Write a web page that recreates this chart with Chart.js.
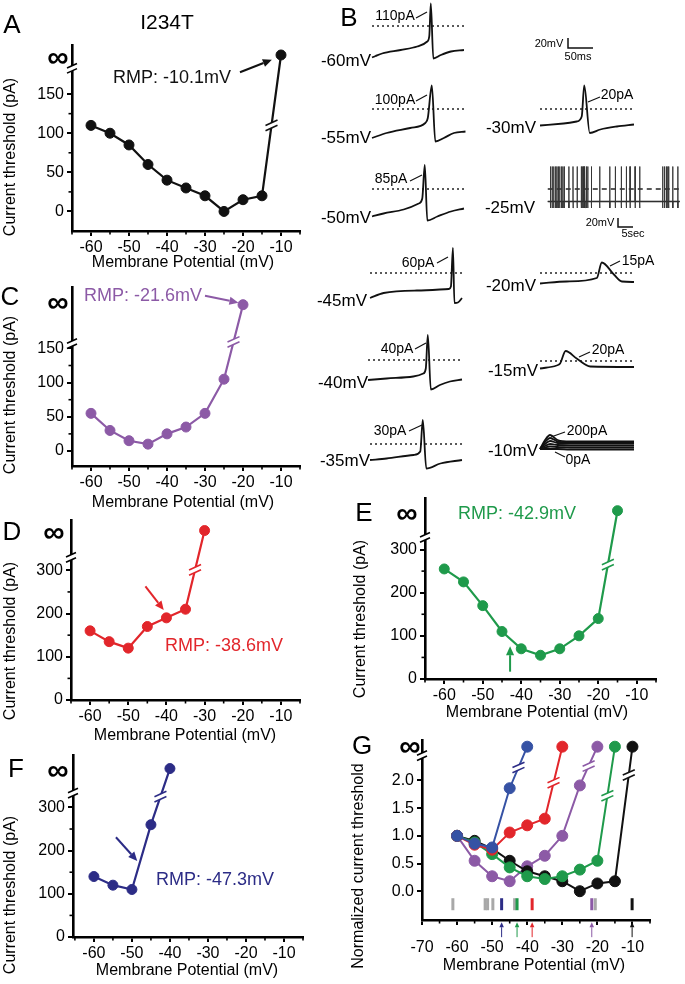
<!DOCTYPE html>
<html>
<head>
<meta charset="utf-8">
<script src="https://cdn.jsdelivr.net/npm/chart.js@4.4.0/dist/chart.umd.min.js"></script>
<style>
    body { margin: 0; background: #fff; }
    #fig { position: relative; width: 685px; height: 984px; overflow: hidden; font-family: "Liberation Sans", Arial, sans-serif; color: #000; }
    #fig canvas { position: absolute; }
    .lbl { position: absolute; transform: translate(-50%, -50%); white-space: nowrap; line-height: 1; }
</style>
</head>
<body>
<div id="fig"></div>
<script>
/*
    Data. 'inf' marks the "no firing" (infinite threshold) point.
*/
const INF = 'inf';
const potentials = [-60, -55, -50, -45, -40, -35, -30, -25, -20, -15, -10];

// current thresholds (pA), one entry per holding potential starting at -60 mV
const thresholdA = [110, 100, 85, 60, 40, 30, 20, 0, 15, 20, INF];
const thresholdC = [55, 30, 15, 10, 25, 35, 55, 105, INF];
const thresholdD = [160, 135, 120, 170, 190, 210, INF];
const thresholdE = [255, 225, 170, 110, 70, 55, 70, 100, 140, INF];
const thresholdF = [140, 120, 110, 260, INF];

// normalized thresholds (panel G)
const normBlack = [1.0, 0.91, 0.77, 0.55, 0.36, 0.27, 0.18, 0.0, 0.14, 0.18, INF];
const normPurple = [1.0, 0.55, 0.27, 0.18, 0.45, 0.64, 1.0, 1.91, INF];
const normRed = [1.0, 0.84, 0.75, 1.06, 1.19, 1.31, INF];
const normGreen = [1.0, 0.88, 0.67, 0.43, 0.27, 0.22, 0.27, 0.39, 0.55, INF];
const normBlue = [1.0, 0.86, 0.79, 1.86, INF];

// resting membrane potentials (mV) marked in panel G
const rmpGray = [-61.2, -52.0, -51.3, -49.8, -43.6, -20.6];
const rmpColored = [-47.3, -42.9, -38.6, -21.6, -10.1];

// panel B traces: time (ms) and voltage (mV)
const t60 = [0, 7, 20, 57, 90, 110, 114, 117, 122, 137, 157, 183];
const v60 = [-63, -60, -55, -48, -41, -31, -20, 45, -65, -58, -51, -48];
const t55 = [0, 29, 76, 106, 111, 119, 126, 143, 163, 186];
const v55 = [-58, -48, -38, -28, -18, 47, -65, -58, -48, -45];
const t50 = [0, 23, 63, 93, 100, 105, 110, 130, 157, 183];
const v50 = [-55, -49, -41, -29, -19, 48, -63, -55, -45, -39];
const t45 = [0, 27, 93, 157, 161, 165, 168, 175, 183];
const v45 = [-50, -40, -35, -32, -27, 50, -60, -59, -50];
const t40 = [0, 37, 90, 110, 115, 119, 125, 143, 163, 187];
const v40 = [-40, -37, -33, -27, -17, 50, -59, -50, -43, -39];
const t35 = [0, 33, 87, 100, 105, 112, 140, 183];
const v35 = [-32, -29, -22, -15, 48, -49, -39, -32];
const t30 = [0, 47, 73, 83, 88, 99, 120, 153, 187];
const v30 = [-33, -29, -25, -15, 47, -48, -41, -35, -31];
const t20 = [0, 53, 113, 123, 147, 163, 187];
const v20 = [-21, -17, -10, 21, -3, -17, -18];
const t15 = [0, 33, 40, 51, 73, 100, 187];
const v15 = [-15, -9, -5, 20, 5, -11, -12];
const t10 = [0, 10, 20, 35, 60, 187];
const v10Steps = [
    [-10, -10, -10, -10, -11, -11],
    [-10, -7, -5, -6, -7, -7],
    [-10, -4, 0, -2, -3, -3],
    [-10, 0, 6, 2, 1, 1],
    [-10, 4, 12, 5, 3, 3],
    [-10, 8, 18, 8, 5, 5]
];
// -25 mV: spontaneous firing, spike times in seconds
const spikeTimes25 = [0.6, 0.97, 1.3, 1.7, 2.0, 2.3, 2.6, 3.0, 3.3, 3.6, 4.6, 5.5, 6.4, 7.3, 7.5, 7.7, 7.9, 8.1, 8.4, 8.7,
    9.5, 11.3, 13.5, 14.7, 16.0, 17.1, 17.9, 19.0, 20.0, 25.0, 25.4, 25.8, 26.1, 26.3, 27.2, 28.3];

const colBlack = '#111111';
const colPurple = '#8c5aa6';
const colRed = '#e2262b';
const colGreen = '#1f9a4b';
const colNavy = '#2c2c86';
const colBlue = '#3652a4';
const colGray = '#a8a8a8';

Chart.defaults.font.family = '"Liberation Sans", Arial, sans-serif';
Chart.defaults.color = '#000';

const fig = document.getElementById('fig');

function addCanvas(left, top, w, h) {
    const c = document.createElement('canvas');
    c.width = Math.round(w);
    c.height = Math.round(h);
    c.style.left = Math.round(left) + 'px';
    c.style.top = Math.round(top) + 'px';
    fig.appendChild(c);
    return c;
}

function addText(txt, cx, cy, size, color, extra) {
    const d = document.createElement('div');
    d.className = 'lbl';
    d.textContent = txt;
    d.style.left = cx + 'px';
    d.style.top = cy + 'px';
    d.style.fontSize = size + 'px';
    d.style.color = color || '#000';
    if (extra && extra.rotate) d.style.transform = 'translate(-50%, -50%) rotate(-90deg)';
    if (extra && extra.bold) d.style.fontWeight = 'bold';
    fig.appendChild(d);
}

function line(ctx, x1, y1, x2, y2) {
    ctx.beginPath();
    ctx.moveTo(x1, y1);
    ctx.lineTo(x2, y2);
    ctx.stroke();
}

// double slash axis / line break
function drawBreak(ctx, x, y, color, half) {
    const d = 2.6, s = half * 0.45;
    ctx.fillStyle = '#fff';
    ctx.beginPath();
    ctx.moveTo(x - half, y + s + d);
    ctx.lineTo(x + half, y - s + d);
    ctx.lineTo(x + half, y - s - d);
    ctx.lineTo(x - half, y + s - d);
    ctx.closePath();
    ctx.fill();
    ctx.strokeStyle = color;
    ctx.lineWidth = 1.6;
    line(ctx, x - half, y + s + d, x + half, y - s + d);
    line(ctx, x - half, y + s - d, x + half, y - s - d);
}

function drawArrow(ctx, x1, y1, x2, y2, color, width, head) {
    const ang = Math.atan2(y2 - y1, x2 - x1);
    const bx = x2 - Math.cos(ang) * head, by = y2 - Math.sin(ang) * head;
    ctx.strokeStyle = color;
    ctx.fillStyle = color;
    ctx.lineWidth = width;
    line(ctx, x1, y1, bx, by);
    ctx.beginPath();
    ctx.moveTo(x2, y2);
    ctx.lineTo(bx + Math.sin(ang) * head * 0.45, by - Math.cos(ang) * head * 0.45);
    ctx.lineTo(bx - Math.sin(ang) * head * 0.45, by + Math.cos(ang) * head * 0.45);
    ctx.closePath();
    ctx.fill();
}

/*
    Plugin for minor ticks, axis breaks, line breaks and annotation arrows.
*/
const panelDeco = {
    id: 'panelDeco',
    afterDraw(chart, args, o) {
        const ctx = chart.ctx, xs = chart.scales.x, ys = chart.scales.y;
        ctx.save();
        ctx.strokeStyle = '#000';
        ctx.lineWidth = 1.6;
        (o.xMinor || []).forEach(v => {
            const px = xs.getPixelForValue(v);
            line(ctx, px, ys.bottom, px, ys.bottom + 3.5);
        });
        (o.yMinor || []).forEach(v => {
            const py = ys.getPixelForValue(v);
            line(ctx, xs.left, py, xs.left - 3.5, py);
        });
        if (o.yBreak != null) drawBreak(ctx, xs.left, ys.getPixelForValue(o.yBreak), '#000', 5);
        chart.data.datasets.forEach((ds, i) => {
            if (!ds.breakFrac) return;
            const pts = chart.getDatasetMeta(i).data;
            const a = pts[pts.length - 2], b = pts[pts.length - 1];
            const f = ds.breakFrac;
            drawBreak(ctx, a.x + (b.x - a.x) * f, a.y + (b.y - a.y) * f, ds.breakColor || ds.borderColor, 6);
        });
        (o.arrows || []).forEach(a => {
            drawArrow(ctx, xs.getPixelForValue(a.from[0]), ys.getPixelForValue(a.from[1]),
                xs.getPixelForValue(a.to[0]), ys.getPixelForValue(a.to[1]), a.color, a.width || 2, a.head || 9);
        });
        ctx.restore();
    }
};

function toPoints(values, infLevel) {
    return values.map((v, i) => ({ x: potentials[i], y: v === INF ? infLevel : v }));
}

/*
    Common method for the threshold vs membrane potential panels.
*/
function makePanel(p) {
    const padL = 48, padT = 12, padR = 10, padB = 40;
    const canvas = addCanvas(p.left - padL, p.top - padT, p.right - p.left + padL + padR, p.bottom - p.top + padT + padB);
    const datasets = p.series.map(s => ({
        data: s.points || toPoints(s.values, p.inf),
        borderColor: s.color,
        backgroundColor: s.color,
        pointBackgroundColor: s.pointColor || s.color,
        pointBorderColor: s.pointColor || s.color,
        pointRadius: s.radius != null ? s.radius : (p.pointRadius || 5),
        pointBorderWidth: s.pointBorderWidth || 1,
        pointStyle: s.pointStyle || 'circle',
        rotation: s.rotation || 0,
        showLine: s.showLine !== false,
        borderWidth: p.lineWidth || 2.2,
        breakFrac: s.values ? (s.breakFrac || 0.5) : 0,
        breakColor: s.breakColor,
        tension: 0
    }));
    new Chart(canvas, {
        type: 'line',
        data: { datasets: datasets },
        options: {
            responsive: false,
            animation: false,
            devicePixelRatio: 1,
            clip: false,
            layout: { padding: { top: padT, right: padR, left: 0, bottom: 0 } },
            plugins: {
                legend: { display: false },
                tooltip: { enabled: false },
                panelDeco: { xMinor: p.xMinor, yMinor: p.yMinor, yBreak: p.yBreak, arrows: p.arrows }
            },
            scales: {
                x: {
                    type: 'linear',
                    min: p.xMin,
                    max: p.xMax,
                    afterFit: s => { s.height = padB; },
                    afterBuildTicks: s => { s.ticks = p.xTicks.map(v => ({ value: v })); },
                    grid: { drawOnChartArea: false, tickLength: 5, lineWidth: 2, color: '#000' },
                    border: { color: '#000', width: 2.6 },
                    ticks: { color: '#000', font: { size: 16 }, padding: p.xTickPad || 2, maxRotation: 0, autoSkip: false }
                },
                y: {
                    type: 'linear',
                    min: p.yMin,
                    max: p.yMax,
                    afterFit: s => { s.width = padL; },
                    afterBuildTicks: s => { s.ticks = p.yTicks.map(v => ({ value: v })); },
                    grid: { drawOnChartArea: false, tickLength: 5, lineWidth: 2, color: '#000' },
                    border: { color: '#000', width: 2.6 },
                    ticks: {
                        color: '#000', font: { size: 16 }, padding: 3, autoSkip: false,
                        callback: v => p.yDecimals ? v.toFixed(p.yDecimals) : String(v)
                    }
                }
            }
        },
        plugins: [panelDeco]
    });
}

const xTicksStd = [-60, -50, -40, -30, -20, -10];
const xMinorStd = [-65, -55, -45, -35, -25, -15, -5];

// Panel A
makePanel({
    left: 72, top: 45, right: 300, bottom: 231, xMin: -65, xMax: -5, yMin: -25, yMax: 212,
    xTicks: xTicksStd, xMinor: xMinorStd, yTicks: [0, 50, 100, 150], yMinor: [25, 75, 125],
    yBreak: 183, inf: 200,
    series: [{ values: thresholdA, color: colBlack }],
    arrows: [{ from: [-20.8, 178], to: [-12.4, 194], color: colBlack }]
});
// Panel C
makePanel({
    left: 72, top: 287, right: 300, bottom: 466, xMin: -65, xMax: -5, yMin: -22, yMax: 239,
    xTicks: xTicksStd, xMinor: xMinorStd, yTicks: [0, 50, 100, 150], yMinor: [25, 75, 125],
    yBreak: 157, inf: 214,
    series: [{ values: thresholdC, color: colPurple }],
    arrows: [{ from: [-30.0, 227], to: [-21.2, 217], color: colPurple }]
});
// Panel D
makePanel({
    left: 71, top: 520, right: 300, bottom: 700, xMin: -65, xMax: -5, yMin: 0, yMax: 415,
    xTicks: xTicksStd, xMinor: xMinorStd, yTicks: [0, 100, 200, 300], yMinor: [50, 150, 250],
    yBreak: 330, inf: 392,
    series: [{ values: thresholdD, color: colRed }],
    arrows: [{ from: [-45.5, 263], to: [-40.7, 208], color: colRed }]
});
// Panel F
makePanel({
    left: 73, top: 755, right: 303, bottom: 937, xMin: -65.5, xMax: -5, yMin: 0, yMax: 420,
    xTicks: xTicksStd, xMinor: xMinorStd, yTicks: [0, 100, 200, 300], yMinor: [50, 150, 250],
    yBreak: 333, inf: 390,
    series: [{ values: thresholdF, color: colNavy }],
    arrows: [{ from: [-54.2, 231], to: [-48.6, 176], color: colNavy }]
});
// Panel E
makePanel({
    left: 425, top: 498, right: 656, bottom: 679, xMin: -65, xMax: -5, yMin: 0, yMax: 418,
    xTicks: xTicksStd, xMinor: xMinorStd, yTicks: [0, 100, 200, 300], yMinor: [50, 150, 250],
    yBreak: 328, inf: 390,
    series: [{ values: thresholdE, color: colGreen }],
    arrows: [{ from: [-42.9, 17], to: [-42.9, 76], color: colGreen }]
});
// Panel G
const rmpArrowColors = [colNavy, colGreen, colRed, colPurple, colBlack];
makePanel({
    left: 422, top: 740, right: 650, bottom: 920, xMin: -70, xMax: -5, yMin: -0.52, yMax: 2.72,
    xTicks: [-70, -60, -50, -40, -30, -20, -10], xMinor: xMinorStd, xTickPad: 13,
    yTicks: [0, 0.5, 1, 1.5, 2], yMinor: [], yDecimals: 1,
    yBreak: 2.45, inf: 2.61, pointRadius: 5.5, lineWidth: 2,
    series: [
        { values: normBlue, color: colBlue, breakColor: colNavy },
        { values: normRed, color: colRed },
        { values: normGreen, color: colGreen, breakFrac: 0.57 },
        { values: normBlack, color: colBlack, breakFrac: 0.79 },
        { values: normPurple, color: colPurple },
        { points: rmpColored.map(x => ({ x: x, y: -0.235 })), color: rmpArrowColors, showLine: false,
          pointStyle: 'line', rotation: 90, radius: 6, pointBorderWidth: 3 },
        { points: rmpGray.map(x => ({ x: x, y: -0.235 })), color: colGray, showLine: false,
          pointStyle: 'line', rotation: 90, radius: 6, pointBorderWidth: 3 }
    ],
    arrows: rmpColored.map((x, i) => ({ from: [x, -0.83], to: [x, -0.56], color: rmpArrowColors[i], width: 1, head: 5 }))
});

/*
    Panel B traces, each its own small chart with 2 ms/px and 2 mV/px.
*/
function makeTrace(x0, y0, traces, dotted) {
    const tMin = -6, tMax = 193, vMin = -76, vMax = 56;
    const canvas = addCanvas(x0 + tMin / 2, y0 - vMax / 2, (tMax - tMin) / 2, (vMax - vMin) / 2);
    const datasets = traces.map(tr => ({
        data: tr.t.map((t, i) => ({ x: t, y: tr.v[i] })),
        borderColor: colBlack, borderWidth: 1.8, pointRadius: 0, cubicInterpolationMode: 'monotone'
    }));
    if (dotted) {
        datasets.push({ data: [{ x: 0, y: 0 }, { x: 187, y: 0 }], borderColor: '#222', borderWidth: 1.3, borderDash: [2, 3], pointRadius: 0 });
    }
    new Chart(canvas, {
        type: 'line',
        data: { datasets: datasets },
        options: {
            responsive: false, animation: false, devicePixelRatio: 1, clip: false,
            layout: { padding: 0 },
            plugins: { legend: { display: false }, tooltip: { enabled: false } },
            scales: { x: { type: 'linear', display: false, min: tMin, max: tMax }, y: { display: false, min: vMin, max: vMax } }
        }
    });
}

makeTrace(372, 26, [{ t: t60, v: v60 }], true);
makeTrace(372, 109, [{ t: t55, v: v55 }], true);
makeTrace(372, 189, [{ t: t50, v: v50 }], true);
makeTrace(370, 273, [{ t: t45, v: v45 }], true);
makeTrace(368, 360, [{ t: t40, v: v40 }], true);
makeTrace(370, 444, [{ t: t35, v: v35 }], true);
makeTrace(540, 109, [{ t: t30, v: v30 }], true);
makeTrace(540, 273, [{ t: t20, v: v20 }], true);
makeTrace(540, 361, [{ t: t15, v: v15 }], true);
makeTrace(540, 444, v10Steps.map(v => ({ t: t10, v: v })), false);

// -25 mV spontaneous firing trace (seconds on x)
function makeSpikeTrace() {
    const pxPerSec = 4.6, tMin = -0.6, tMax = 29.2, vMin = -42, vMax = 50;
    const x0 = 548, y0 = 189;
    const canvas = addCanvas(x0 + tMin * pxPerSec, y0 - vMax / 2, (tMax - tMin) * pxPerSec, (vMax - vMin) / 2);
    const pts = [{ x: 0, y: -25 }];
    spikeTimes25.forEach(t => {
        pts.push({ x: t - 0.03, y: -25 }, { x: t - 0.01, y: 45 }, { x: t + 0.01, y: -38 }, { x: t + 0.05, y: -25 });
    });
    pts.push({ x: 28.7, y: -25 });
    new Chart(canvas, {
        type: 'line',
        data: {
            datasets: [
                { data: pts, borderColor: '#333', borderWidth: 0.9, pointRadius: 0, tension: 0 },
                { data: [{ x: 0, y: -25 }, { x: 28.7, y: -25 }], borderColor: colBlack, borderWidth: 1.6, pointRadius: 0 },
                { data: [{ x: 0, y: 0 }, { x: 28.7, y: 0 }], borderColor: '#222', borderWidth: 1.3, borderDash: [5, 4], pointRadius: 0 }
            ]
        },
        options: {
            responsive: false, animation: false, devicePixelRatio: 1, clip: false,
            layout: { padding: 0 },
            plugins: { legend: { display: false }, tooltip: { enabled: false } },
            scales: { x: { type: 'linear', display: false, min: tMin, max: tMax }, y: { display: false, min: vMin, max: vMax } }
        }
    });
}
makeSpikeTrace();

// leader lines and scale bars for panel B
const svgNS = 'http://www.w3.org/2000/svg';
const svg = document.createElementNS(svgNS, 'svg');
svg.setAttribute('width', 685);
svg.setAttribute('height', 984);
svg.style.position = 'absolute';
svg.style.left = '0px';
svg.style.top = '0px';
const leaders = [
    [416, 18, 427, 12], [416, 101, 427, 95], [410, 181, 422, 175], [600, 97, 588, 102],
    [437, 263, 448, 257], [620, 261, 610, 266], [415, 349, 426, 343], [590, 352, 579, 357],
    [409, 431, 422, 425], [565, 432, 551, 437], [565, 457, 555, 452]
];
leaders.forEach(l => {
    const e = document.createElementNS(svgNS, 'line');
    e.setAttribute('x1', l[0]); e.setAttribute('y1', l[1]);
    e.setAttribute('x2', l[2]); e.setAttribute('y2', l[3]);
    e.setAttribute('stroke', '#111'); e.setAttribute('stroke-width', 1.2);
    svg.appendChild(e);
});
['M568 38 V48 H593', 'M618 218 V227 H633'].forEach(d => {
    const e = document.createElementNS(svgNS, 'path');
    e.setAttribute('d', d);
    e.setAttribute('fill', 'none');
    e.setAttribute('stroke', '#111');
    e.setAttribute('stroke-width', 1.5);
    svg.appendChild(e);
});
fig.appendChild(svg);

/*
    Text: panel letters, infinity marks, axis titles, annotations.
*/
[['A', 12, 24], ['B', 349, 17], ['C', 10, 296], ['D', 12, 531], ['E', 364, 512], ['F', 16, 768], ['G', 362, 745]]
    .forEach(l => addText(l[0], l[1], l[2], 26));
addText('I234T', 167, 21, 21);
[[58, 57], [58, 302], [54, 532], [58, 770], [407, 513], [410, 746]].forEach(p => addText('\u221E', p[0], p[1], 30, '#000', { bold: true }));

addText('RMP: -10.1mV', 172, 77, 18, colBlack);
addText('RMP: -21.6mV', 143, 295, 18, colPurple);
addText('RMP: -38.6mV', 224, 645, 18, colRed);
addText('RMP: -47.3mV', 215, 879, 18, colNavy);
addText('RMP: -42.9mV', 517, 513, 18, colGreen);

[[10, 157], [10, 395], [10, 641], [10, 895], [360, 619]].forEach(p => addText('Current threshold (pA)', p[0], p[1], 16, '#000', { rotate: true }));
addText('Normalized current threshold', 358, 866, 16, '#000', { rotate: true });
[[183, 262], [183, 502], [185, 735], [187, 970], [537, 712], [534, 965]].forEach(p => addText('Membrane Potential (mV)', p[0], p[1], 16));

[['-60mV', 346, 60], ['-55mV', 346, 137], ['-50mV', 346, 217], ['-45mV', 342, 300], ['-40mV', 343, 382], ['-35mV', 345, 460],
 ['-30mV', 511, 127], ['-25mV', 510, 207], ['-20mV', 511, 285], ['-15mV', 513, 370], ['-10mV', 513, 450]]
    .forEach(l => addText(l[0], l[1], l[2], 17));
[['110pA', 395, 15], ['100pA', 395, 99], ['85pA', 391, 178], ['20pA', 617, 94], ['60pA', 418, 262], ['15pA', 638, 260],
 ['40pA', 397, 348], ['20pA', 608, 349], ['30pA', 390, 430], ['200pA', 587, 430], ['0pA', 578, 459]]
    .forEach(l => addText(l[0], l[1], l[2], 14));
addText('20mV', 549, 43, 11);
addText('50ms', 578, 56, 11);
addText('20mV', 600, 222, 11);
addText('5sec', 633, 233, 11);
</script>
</body>
</html>
